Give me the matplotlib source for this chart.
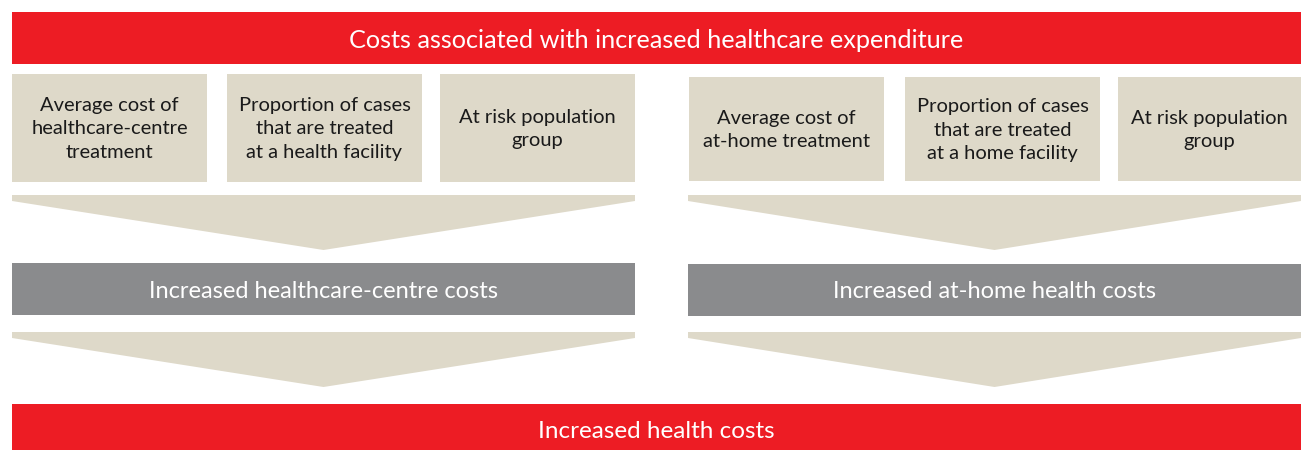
"""Flow diagram: costs associated with increased healthcare expenditure."""

import matplotlib

matplotlib.use("Agg")
import matplotlib.pyplot as plt
from matplotlib.patches import Polygon, Rectangle

# Text content
title = "Costs associated with increased healthcare expenditure"
left_inputs = [
    "Average cost of\nhealthcare-centre\ntreatment",
    "Proportion of cases\nthat are treated\nat a health facility",
    "At risk population\ngroup",
]
right_inputs = [
    "Average cost of\nat-home treatment",
    "Proportion of cases\nthat are treated\nat a home facility",
    "At risk population\ngroup",
]
branch_labels = ["Increased healthcare-centre costs", "Increased at-home health costs"]
result = "Increased health costs"

# Colours
RED = "#ED1C24"
BEIGE = "#DED9C9"
GREY = "#8A8B8D"
DARK = "#1A1A1A"

FONT = ["Lato", "DejaVu Sans"]

# Layout (pixels, y downwards)
W, H = 1301, 450
left_cols = [(12, 207), (227, 422), (440, 635)]
right_cols = [(689, 884), (905, 1100), (1118, 1301)]
branches = [(12, 635, 74, 182, 263, 315), (688, 1301, 77, 181, 264, 316)]


def funnel(ax, x0, x1, top, side, tip):
    """Downward-pointing beige chevron."""
    xm = (x0 + x1) / 2
    ax.add_patch(
        Polygon(
            [(x0, top), (x1, top), (x1, side), (xm, tip), (x0, side)],
            closed=True, facecolor=BEIGE, edgecolor="none",
        )
    )


def main():
    fig = plt.figure(figsize=(W / 100, H / 100), dpi=100)
    ax = fig.add_axes([0, 0, 1, 1])
    ax.set_xlim(0, W)
    ax.set_ylim(H, 0)
    ax.axis("off")

    # Top bar
    ax.add_patch(Rectangle((12, 12), W - 12, 52, facecolor=RED, edgecolor="none"))
    ax.text((12 + W) / 2, 40, title, ha="center", va="center",
            color="white", fontsize=18.2, family=FONT)

    for (x0, x1, btop, bbot, gtop, gbot), cols, labels, branch in zip(
        branches, [left_cols, right_cols], [left_inputs, right_inputs], branch_labels
    ):
        for (c0, c1), label in zip(cols, labels):
            ax.add_patch(Rectangle((c0, btop), c1 - c0, bbot - btop,
                                   facecolor=BEIGE, edgecolor="none"))
            ax.text((c0 + c1) / 2, (btop + bbot) / 2 + 1, label, ha="center",
                    va="center", color=DARK, fontsize=14.5, family=FONT,
                    linespacing=1.45)

        funnel(ax, x0, x1, 195, 201, 250)

        ax.add_patch(Rectangle((x0, gtop), x1 - x0, gbot - gtop,
                               facecolor=GREY, edgecolor="none"))
        ax.text((x0 + x1) / 2, (gtop + gbot) / 2 + 2, branch, ha="center",
                va="center", color="white", fontsize=17, family=FONT)

        funnel(ax, x0, x1, 332, 338, 387)

    # Bottom bar
    ax.add_patch(Rectangle((12, 404), W - 12, H - 404, facecolor=RED, edgecolor="none"))
    ax.text((12 + W) / 2, 432, result, ha="center", va="center",
            color="white", fontsize=17.5, family=FONT)

    fig.savefig("out.png", dpi=100)


if __name__ == "__main__":
    main()
